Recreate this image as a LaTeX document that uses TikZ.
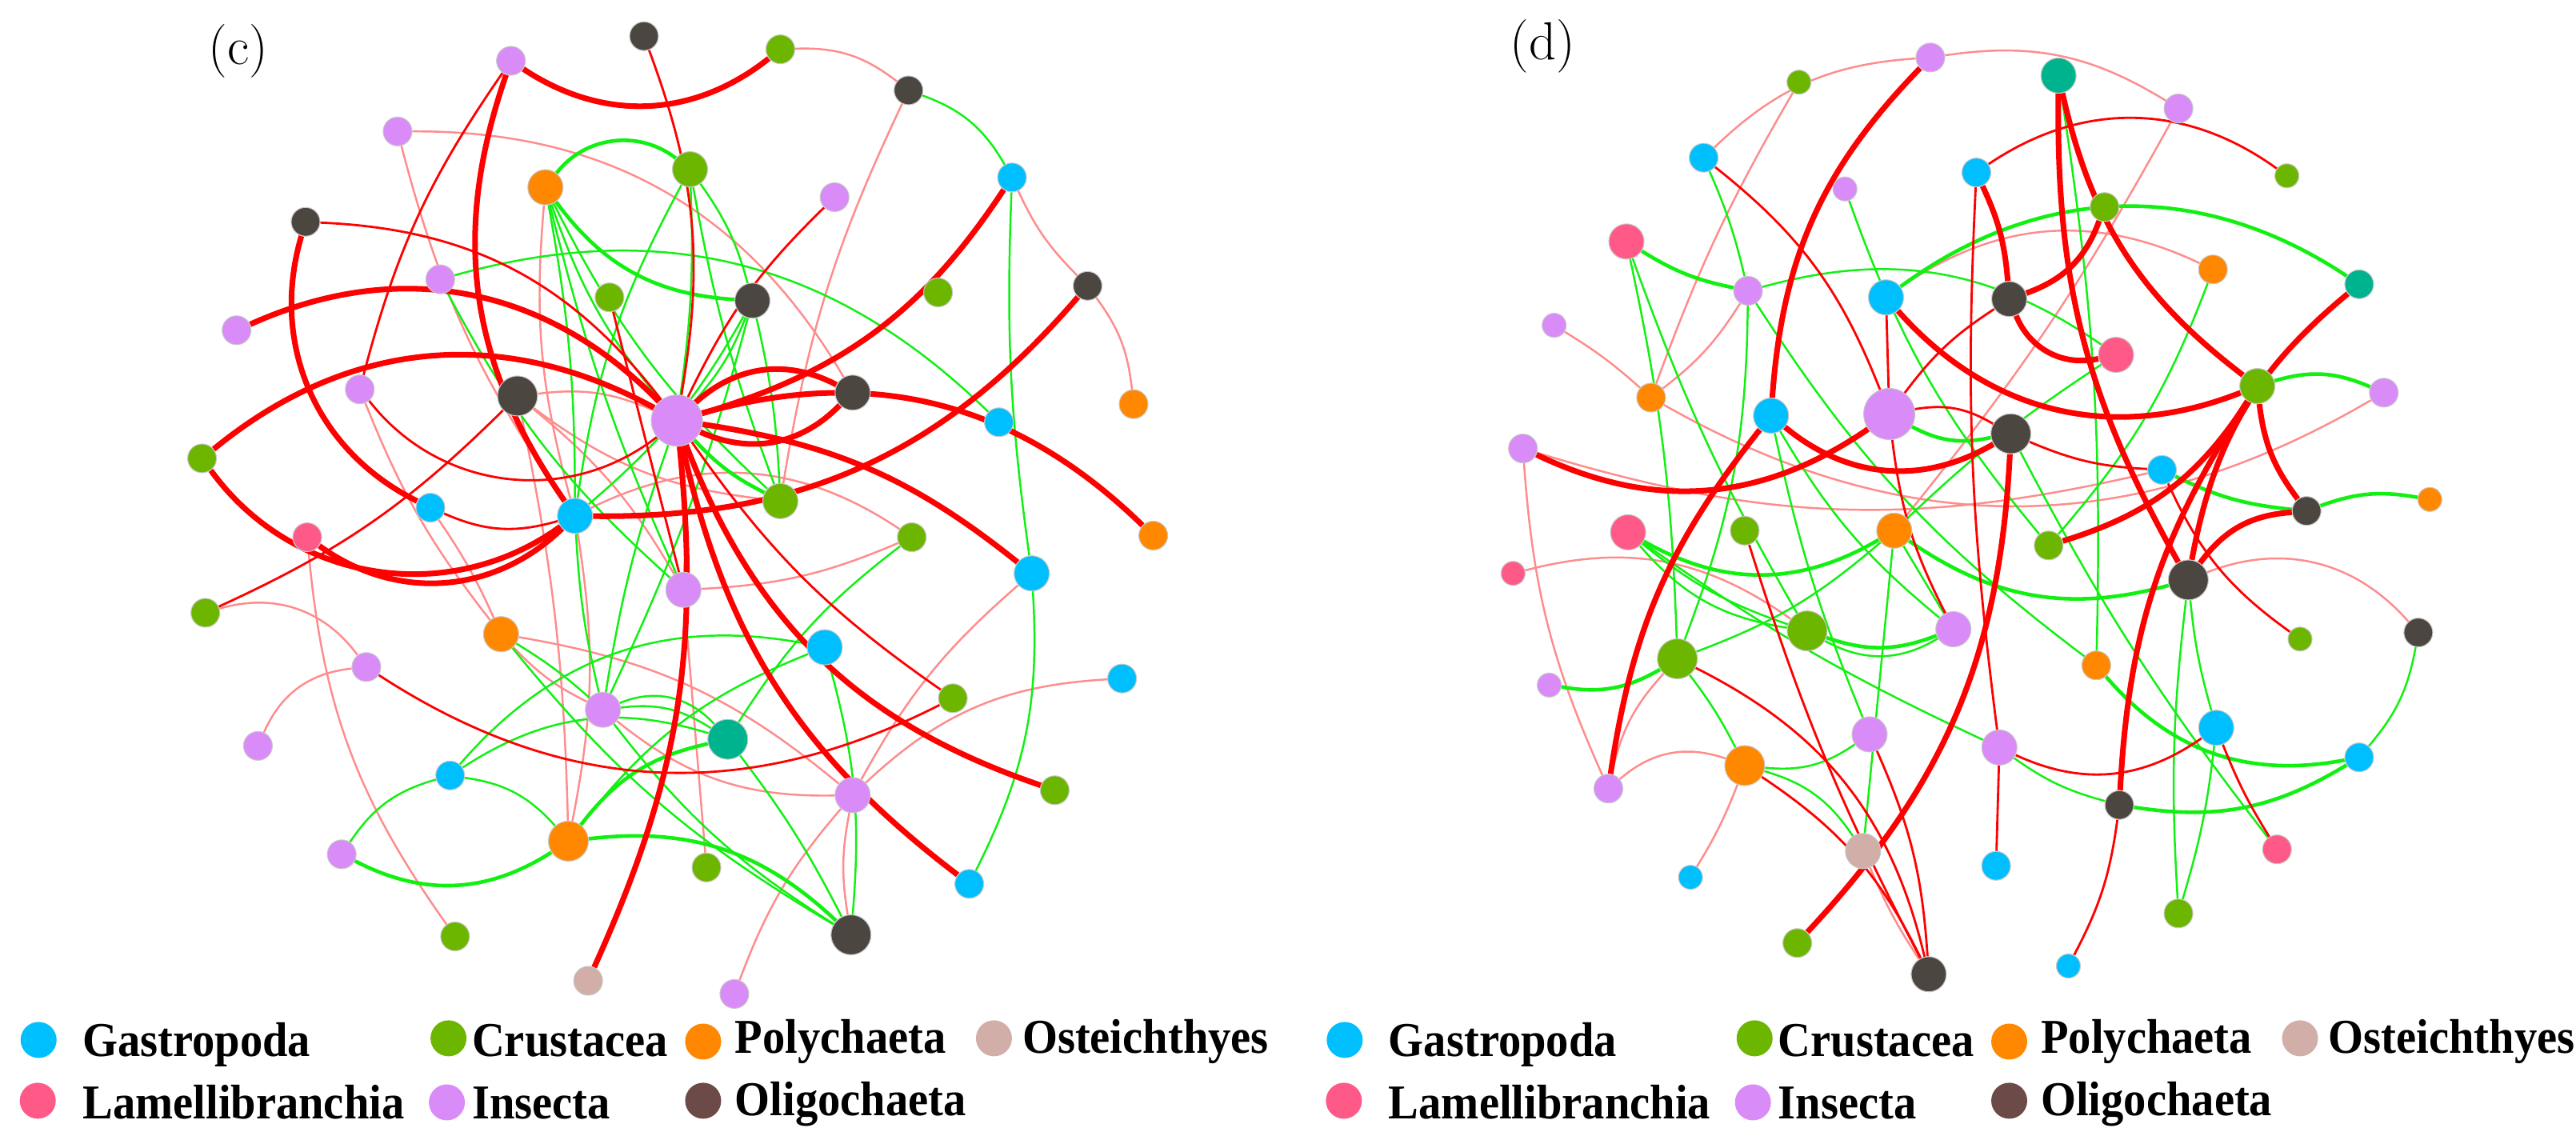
\documentclass[tikz,border=0pt]{standalone}
\usepackage{fontspec}
\newfontfamily\legendfont{Liberation Serif}[FakeStretch=0.93]
\usetikzlibrary{backgrounds}
\definecolor{cGas}{HTML}{00BFFF}
\definecolor{cCru}{HTML}{6CB600}
\definecolor{cPol}{HTML}{FF8800}
\definecolor{cOst}{HTML}{D1AEA8}
\definecolor{cLam}{HTML}{FF5A87}
\definecolor{cIns}{HTML}{D98BF7}
\definecolor{cOli}{HTML}{4B4640}
\definecolor{cOliKey}{HTML}{6B4A47}
\definecolor{cTea}{HTML}{00B38F}
\definecolor{eRed}{HTML}{FF0000}
\definecolor{eGrn}{HTML}{11F011}
\begin{document}
\begin{tikzpicture}[x=0.020536cm, y=-0.020536cm,
    sp/.style={circle, inner sep=0pt, draw=black!22, line width=0.3pt},
    nxs/.style={minimum size=0.30cm}, nsm/.style={minimum size=0.36cm},
    nmd/.style={minimum size=0.44cm}, nbg/.style={minimum size=0.50cm},
    nhg/.style={minimum size=0.64cm},
    gas/.style={sp, fill=cGas}, cru/.style={sp, fill=cCru}, pol/.style={sp, fill=cPol},
    ost/.style={sp, fill=cOst}, lam/.style={sp, fill=cLam}, ins/.style={sp, fill=cIns},
    oli/.style={sp, fill=cOli}, tea/.style={sp, fill=cTea},
    ethick/.style={draw=eRed, line width=2pt},
    ered/.style={draw=eRed, line width=0.8pt},
    elight/.style={draw=eRed!45, line width=0.7pt},
    egreen/.style={draw=eGrn, line width=0.7pt},
    egreenb/.style={draw=eGrn, line width=1.3pt},
    panel/.style={font=\fontsize{19}{22}\selectfont},
    key/.style={circle, inner sep=0pt, minimum size=0.45cm},
    keytext/.style={anchor=base west, inner sep=0pt, font=\legendfont\bfseries\fontsize{17.3}{21}\selectfont}]
\useasboundingbox (0,0) rectangle (1568,691);

% panel (c)
\node[panel] (lblc) at (145,31) {(c)};
\foreach \n/\x/\y/\k/\z in {c1/392/22/oli/nsm, c2/475/30/cru/nsm, c3/311/37/ins/nsm,
    c4/553/55/oli/nsm, c5/242/80/ins/nsm, c6/616/108/gas/nsm, c7/420/103/cru/nmd,
    c8/332/114/pol/nmd, c9/508/120/ins/nsm, c10/186/135/oli/nsm, c11/662/174/oli/nsm,
    c12/268/170/ins/nsm, c13/371/181/cru/nsm, c14/458/183/oli/nmd, c15/571/178/cru/nsm,
    c16/144/201/ins/nsm, c17/690/246/pol/nsm, c18/219/237/ins/nsm, c19/315/241/oli/nbg,
    c20/412/256/ins/nhg, c21/519/239/oli/nmd, c22/608/257/gas/nsm, c23/123/279/cru/nsm,
    c24/262/309/gas/nsm, c25/350/314/gas/nmd, c26/475/305/cru/nmd, c27/187/327/lam/nsm,
    c28/555/327/cru/nsm, c29/702/326/pol/nsm, c30/628/349/gas/nmd, c31/416/359/ins/nmd,
    c32/125/373/cru/nsm, c33/305/386/pol/nmd, c34/502/394/gas/nmd, c35/223/406/ins/nsm,
    c36/683/413/gas/nsm, c37/580/425/cru/nsm, c38/367/432/ins/nmd, c39/443/450/tea/nbg,
    c40/157/454/ins/nsm, c41/274/472/gas/nsm, c42/519/484/ins/nmd, c43/642/481/cru/nsm,
    c44/346/512/pol/nbg, c45/208/520/ins/nsm, c46/430/528/cru/nsm, c47/590/538/gas/nsm,
    c48/277/570/cru/nsm, c49/518/569/oli/nbg, c50/358/597/ost/nsm, c51/447/605/ins/nsm}
    \node[\k,\z] (\n) at (\x,\y) {};

% panel (d)
\node[panel] (lbld) at (939,28) {(d)};
\foreach \n/\x/\y/\k/\z in {d1/1175/35/ins/nsm, d2/1253/46/tea/nmd, d3/1095/50/cru/nxs,
    d4/1326/66/ins/nsm, d5/1037/96/gas/nsm, d6/1203/105/gas/nsm, d7/1392/107/cru/nxs,
    d8/1123/115/ins/nxs, d9/1281/126/cru/nsm, d10/990/147/lam/nmd, d11/1064/177/ins/nsm,
    d12/1148/181/gas/nmd, d13/1223/182/oli/nmd, d14/1347/164/pol/nsm, d15/1436/173/tea/nsm,
    d16/946/198/ins/nxs, d17/1288/216/lam/nmd, d18/1005/242/pol/nsm, d19/1374/235/cru/nmd,
    d20/1451/239/ins/nsm, d21/1078/253/gas/nmd, d22/1150/252/ins/nhg, d23/1224/264/oli/nbg,
    d24/927/273/ins/nsm, d25/1316/286/gas/nsm, d26/1404/311/oli/nsm, d27/1479/304/pol/nxs,
    d28/991/324/lam/nmd, d29/1062/323/cru/nsm, d30/1153/323/pol/nmd, d31/1247/332/cru/nsm,
    d32/1332/353/oli/nbg, d33/921/349/lam/nxs, d34/1100/384/cru/nbg, d35/1189/383/ins/nmd,
    d36/1021/401/cru/nbg, d37/1400/389/cru/nxs, d38/1472/385/oli/nsm, d39/943/417/ins/nxs,
    d40/1276/405/pol/nsm, d41/1138/447/ins/nmd, d42/1217/455/ins/nmd, d43/1349/443/gas/nmd,
    d44/1062/466/pol/nbg, d45/1436/461/gas/nsm, d46/979/480/ins/nsm, d47/1290/490/oli/nsm,
    d48/1134/518/ost/nmd, d49/1386/517/lam/nsm, d50/1215/527/gas/nsm, d51/1029/534/gas/nxs,
    d52/1326/556/cru/nsm, d53/1094/574/cru/nsm, d54/1174/593/oli/nmd, d55/1259/588/gas/nxs}
    \node[\k,\z] (\n) at (\x,\y) {};

\begin{scope}[on background layer]
\foreach \a/\b/\st/\bd in {
    c2/c4/elight/20, c6/c11/elight/-10, c11/c17/elight/15, c4/c26/elight/-8,
    c5/c21/elight/30, c5/c25/elight/-10, c19/c31/elight/10, c19/c26/elight/-15,
    c19/c44/elight/5, c19/c20/elight/15, c18/c33/elight/-8, c27/c48/elight/-15,
    c32/c35/elight/35, c35/c40/elight/-30, c28/c31/elight/10, c25/c28/elight/30,
    c36/c42/elight/-20, c30/c42/elight/-10, c42/c38/elight/20, c42/c49/elight/-10,
    c42/c51/elight/-10, c46/c31/elight/0, c33/c38/elight/-10, c33/c42/elight/15,
    c8/c25/elight/-10, c25/c44/elight/10, c24/c33/elight/5,
    c4/c6/egreen/20, c8/c7/egreenb/45, c7/c14/egreen/10, c7/c20/egreen/5,
    c7/c25/egreen/-10, c7/c26/egreen/-5, c8/c14/egreenb/-25, c8/c20/egreen/-10,
    c8/c25/egreen/5, c8/c26/egreen/-10, c8/c31/egreen/-5, c12/c22/egreen/30,
    c12/c31/egreen/-10, c14/c26/egreen/5, c14/c25/egreen/10, c14/c38/egreen/5,
    c20/c31/egreen/5, c20/c26/egreenb/-10, c20/c38/egreen/-5, c6/c30/egreen/-5,
    c33/c49/egreen/-10, c33/c38/egreen/5, c34/c41/egreen/-30, c34/c44/egreen/-15,
    c34/c49/egreen/10, c38/c39/egreen/20, c38/c39/egreen/35, c39/c44/egreenb/-20,
    c39/c49/egreen/5, c41/c39/egreen/25, c41/c44/egreen/20, c45/c41/egreen/20,
    c45/c44/egreenb/-30, c44/c49/egreenb/25, c28/c39/egreen/-10, c30/c47/egreen/15,
    c49/c38/egreen/10, c14/c20/egreen/10, c25/c38/egreen/-5,
    c1/c20/ered/15, c10/c20/ered/25, c9/c20/ered/-10, c18/c20/ered/-45,
    c3/c18/ered/-10, c24/c25/ered/-20, c32/c19/ered/-10, c35/c37/ered/-30,
    c37/c20/ered/10, c13/c31/ered/0,
    c3/c2/ethick/-36, c3/c25/ethick/-27, c10/c24/ethick/-40, c16/c20/ethick/35,
    c23/c20/ethick/34, c23/c25/ethick/-45, c27/c25/ethick/-40, c20/c21/ethick/35,
    c20/c21/ethick/-35, c20/c29/ethick/30, c20/c30/ethick/15, c11/c25/ethick/25,
    c6/c20/ethick/20, c20/c43/ethick/-25, c20/c47/ethick/-20, c20/c50/ethick/15}
    \draw[\st] (\a) to[bend left=\bd] (\b);
\foreach \a/\b/\st/\bd in {
    d5/d1/elight/20, d1/d4/elight/20, d3/d18/elight/-5, d18/d20/elight/-30,
    d24/d25/elight/-15, d33/d34/elight/25, d16/d18/elight/5, d12/d14/elight/30,
    d4/d30/elight/5, d44/d46/elight/-30, d44/d51/elight/5, d36/d46/elight/-15,
    d48/d54/elight/-5, d32/d38/elight/35, d24/d46/elight/-10, d11/d18/elight/10,
    d5/d11/egreen/5, d10/d11/egreenb/-10, d10/d34/egreen/-5, d10/d36/egreen/5,
    d11/d17/egreen/25, d11/d36/egreen/10, d12/d15/egreenb/35, d14/d31/egreen/10,
    d2/d40/egreen/5, d8/d31/egreen/-10, d19/d20/egreenb/20, d27/d26/egreenb/-15,
    d25/d26/egreenb/-10, d22/d23/egreenb/-20, d21/d35/egreen/-10, d21/d41/egreen/-5,
    d28/d30/egreenb/-30, d28/d34/egreen/-10, d28/d34/egreen/-20, d28/d42/egreen/-5,
    d30/d35/egreen/0, d30/d36/egreen/10, d30/d48/egreen/0, d32/d30/egreenb/25,
    d38/d45/egreen/15, d45/d47/egreenb/20, d40/d45/egreenb/-30, d40/d11/egreen/10,
    d43/d52/egreen/5, d42/d47/egreen/-10, d41/d44/egreen/20, d44/d48/egreen/20,
    d36/d39/egreenb/20, d36/d44/egreen/5, d34/d35/egreenb/-20, d34/d35/egreen/-30,
    d49/d23/egreen/5, d17/d30/egreen/-5, d32/d43/egreen/-5, d32/d52/egreen/-5,
    d5/d22/ered/15, d6/d7/ered/35, d22/d13/ered/10, d23/d25/ered/-10,
    d25/d37/ered/-15, d6/d42/ered/-5, d41/d54/ered/10, d36/d54/ered/25,
    d44/d54/ered/15, d29/d54/ered/-5, d47/d55/ered/10, d43/d49/ered/-5,
    d12/d22/ered/0, d19/d32/ered/-10, d22/d35/ered/-10, d22/d23/ered/20,
    d42/d43/ered/-30, d42/d50/ered/0,
    d1/d21/ethick/-20, d46/d21/ethick/15, d21/d23/ethick/-35, d12/d19/ethick/-35,
    d13/d17/ethick/-40, d13/d9/ethick/-25, d6/d13/ethick/10, d2/d19/ethick/-20,
    d2/d32/ethick/-15, d15/d32/ethick/-20, d19/d26/ethick/-15, d26/d32/ethick/-25,
    d31/d19/ethick/-20, d19/d47/ethick/-15, d23/d53/ethick/20, d24/d22/ethick/-30}
    \draw[\st] (\a) to[bend left=\bd] (\b);
\end{scope}

% legends
\foreach \p/\q in {0/0, 1/795} {
    \node[key, fill=cGas] (kgas\p) at (23.5+\q,633) {};
    \node[key, fill=cCru] (kcru\p) at (273+\q,632) {};
    \node[key, fill=cPol] (kpol\p) at (428+\q,634) {};
    \node[key, fill=cOst] (kost\p) at (605+\q,632) {};
    \node[key, fill=cLam] (klam\p) at (23+\q,670) {};
    \node[key, fill=cIns] (kins\p) at (272+\q,671) {};
    \node[key, fill=cOliKey] (koli\p) at (428+\q,670) {};
    \node[keytext] (tgas\p) at (50+\q,643) {Gastropoda};
    \node[keytext] (tcru\p) at (287+\q,643) {Crustacea};
    \node[keytext] (tpol\p) at (447+\q,641) {Polychaeta};
    \node[keytext] (tost\p) at (622+\q,641) {Osteichthyes};
    \node[keytext] (tlam\p) at (50+\q,681) {Lamellibranchia};
    \node[keytext] (tins\p) at (287+\q,681) {Insecta};
    \node[keytext] (toli\p) at (447+\q,679) {Oligochaeta};
}
\end{tikzpicture}
\end{document}
